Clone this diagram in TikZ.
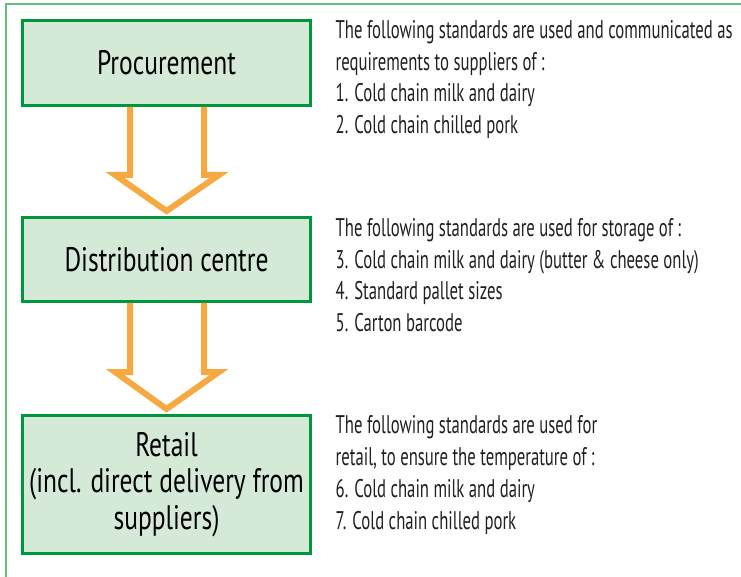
\documentclass[tikz,border=0pt]{standalone}
\usepackage{fontspec}
\setmainfont{PT Sans}[FakeStretch=0.75]
\newfontfamily\notefont{PT Sans}[FakeStretch=0.655]
\usetikzlibrary{positioning}
\definecolor{framegreen}{RGB}{96,190,125}
\definecolor{boxgreen}{RGB}{0,150,62}
\definecolor{boxfill}{RGB}{213,234,214}
\definecolor{arroworange}{RGB}{247,169,65}
\definecolor{notegrey}{RGB}{35,31,32}
\tikzstyle{stage} = [rectangle, minimum width=288pt, align=center, draw=boxgreen, line width=3pt, fill=boxfill, font=\fontsize{34}{36.5}\selectfont, inner sep=0pt]
\tikzstyle{note} = [anchor=north west, align=left, inner sep=0pt, text=notegrey, font=\notefont\fontsize{25.5}{31.8}\selectfont]
\tikzstyle{hollow} = [draw=arroworange, line width=6pt, miter limit=20]

\begin{document}
\begin{tikzpicture}[x=1pt, y=1pt]
   \useasboundingbox (0,0) rectangle (741,576);
   \draw[framegreen, line width=2pt] (6,-20) -- (6,572) -- (760,572);
   \node (proc) [stage, minimum height=85pt] at (166.5,513) {Procurement};
   \node (dist) [stage, minimum height=84pt, below=109pt of proc] {Distribution centre};
   \node (retail) [stage, minimum height=138pt, below=111pt of dist] {Retail\\(incl. direct delivery from\\suppliers)};
   \node (procnote) [note] at ([xshift=23.5pt,yshift=-1pt]proc.north east) {The following standards are used and communicated as\\requirements to suppliers of\,:\\1. Cold chain milk and dairy\\2. Cold chain chilled pork};
   \node (distnote) [note] at ([xshift=23.5pt,yshift=-2pt]dist.north east) {The following standards are used for storage of\,:\\3. Cold chain milk and dairy (butter \& cheese only)\\4. Standard pallet sizes\\5. Carton barcode};
   \node (retailnote) [note] at ([xshift=23.5pt,yshift=-1.5pt]retail.north east) {The following standards are used for\\retail, to ensure the temperature of\,:\\6. Cold chain milk and dairy\\7. Cold chain chilled pork};
   \draw [hollow] ([xshift=-36.5pt]proc.south) |- ([xshift=-51.5pt,yshift=41pt]dist.north) -- ([yshift=5pt]dist.north) -- ([xshift=52.5pt,yshift=41pt]dist.north) -| ([xshift=37.5pt]proc.south);
   \draw [hollow] ([xshift=-36.5pt]dist.south) |- ([xshift=-51.5pt,yshift=42pt]retail.north) -- ([yshift=5pt]retail.north) -- ([xshift=52.5pt,yshift=42pt]retail.north) -| ([xshift=37.5pt]dist.south);
\end{tikzpicture}
\end{document}
